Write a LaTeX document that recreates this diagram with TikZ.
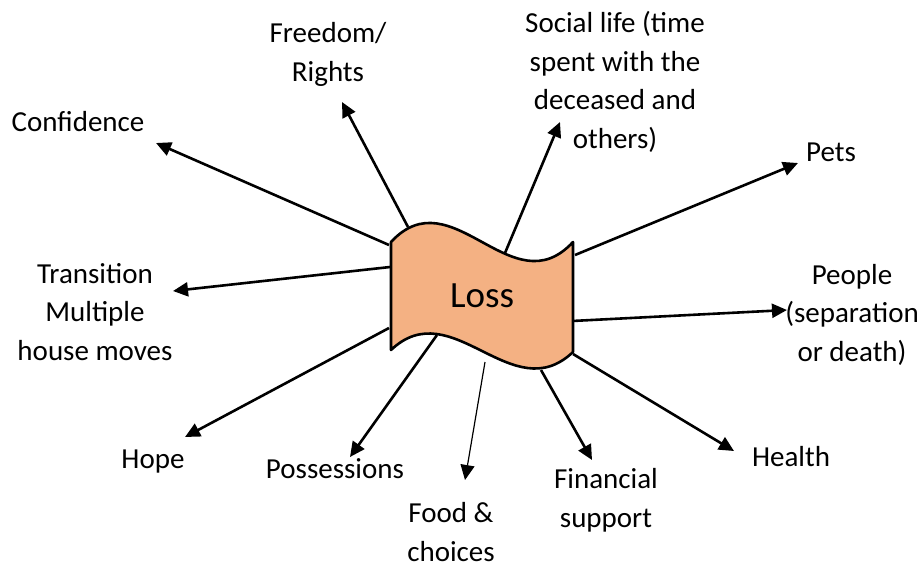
\documentclass[tikz,border=0pt]{standalone}
\usepackage{fontspec}
\setmainfont{Carlito}
\usetikzlibrary{arrows.meta}
\definecolor{flagfill}{RGB}{244,177,131}
\begin{document}
\begin{tikzpicture}[x=1pt,y=-1pt,
  lbl/.style={font=\fontsize{29}{38.5}\selectfont, align=center, inner sep=0pt, anchor=base},
  spoke/.style={line width=2.6pt, -{Triangle[length=15pt,width=14pt]}},
  thinspoke/.style={line width=1.2pt, -{Triangle[length=15pt,width=14pt]}},
  flag/.style={line width=2.6pt, draw=black, fill=flagfill, line join=round}]
\useasboundingbox (0,0) rectangle (920,563);

% spoke start points on the banner
\coordinate (sConf)   at (389,245);
\coordinate (sFree)   at (408,227);
\coordinate (sSoc)    at (505,253);
\coordinate (sPets)   at (575,255);
\coordinate (sPeople) at (572,321);
\coordinate (sHealth) at (573,354);
\coordinate (sFin)    at (541,370);
\coordinate (sFood)   at (485,362);
\coordinate (sPoss)   at (437,335);
\coordinate (sHope)   at (389,328);
\coordinate (sTrans)  at (390,267);

% arrow tips
\coordinate (tConf)   at (156,143);
\coordinate (tFree)   at (342,102);
\coordinate (tSoc)    at (560,122);
\coordinate (tPets)   at (798,163);
\coordinate (tPeople) at (787,310);
\coordinate (tHealth) at (734,451);
\coordinate (tFin)    at (592,460);
\coordinate (tFood)   at (465,480);
\coordinate (tPoss)   at (350,457);
\coordinate (tHope)   at (185,437);
\coordinate (tTrans)  at (173,291);

\draw[spoke] (sConf) -- (tConf);
\draw[spoke] (sFree) -- (tFree);
\draw[spoke] (sSoc) -- (tSoc);
\draw[spoke] (sPets) -- (tPets);
\draw[spoke] (sPeople) -- (tPeople);
\draw[spoke] (sHealth) -- (tHealth);
\draw[spoke] (sFin) -- (tFin);
\draw[thinspoke] (sFood) -- (tFood);
\draw[spoke] (sPoss) -- (tPoss);
\draw[spoke] (sHope) -- (tHope);
\draw[spoke] (sTrans) -- (tTrans);

% wavy banner
\path[flag] (391,242) .. controls (452,176) and (512,308) .. (573,242)
  -- (573,352) .. controls (512,410) and (452,292) .. (391,350) -- cycle;
\node[font=\fontsize{37}{44}\selectfont, inner sep=0pt, anchor=base] (loss) at (482,307) {Loss};

% labels (multi-line labels sit on the baseline of their last line)
\node[lbl] (conf)   at (78,131)  {Confidence};
\node[lbl] (free)   at (328,81)  {Freedom/\\Rights};
\node[lbl] (soc)    at (615,148) {Social life (time\\spent with the\\deceased and\\others)};
\node[lbl] (pets)   at (831,161) {Pets};
\node[lbl] (people) at (852,361) {People\\(separation\\or death)};
\node[lbl] (health) at (791,466) {Health};
\node[lbl] (fin)    at (606,527) {Financial\\support};
\node[lbl] (food)   at (451,561) {Food \&\\choices};
\node[lbl] (poss)   at (335,478) {Possessions};
\node[lbl] (hope)   at (153,468) {Hope};
\node[lbl] (trans)  at (95,360)  {Transition\\Multiple\\house moves};
\end{tikzpicture}
\end{document}
